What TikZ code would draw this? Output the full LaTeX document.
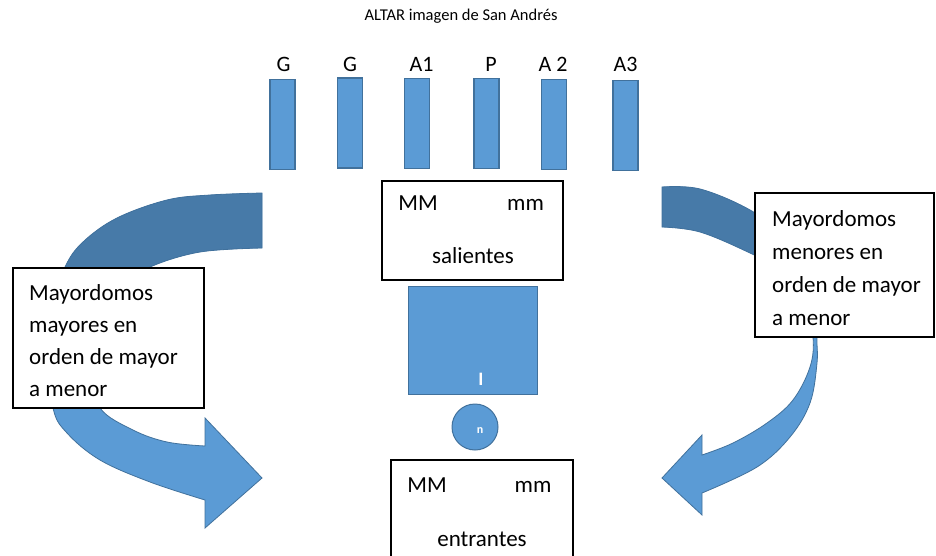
\documentclass[tikz,border=0pt]{standalone}
\usepackage{fontspec}
\setmainfont{Carlito}
\definecolor{lblue}{HTML}{5B9BD5}
\definecolor{dblue}{HTML}{477AA8}
\definecolor{eblue}{HTML}{41719C}
\begin{document}
\begin{tikzpicture}[x=1pt,y=-1pt,
  bar/.style={draw=eblue, line width=1.2pt, fill=lblue, minimum width=25pt, minimum height=90pt, inner sep=0pt},
  lab/.style={anchor=base, font=\fontsize{22}{26}\selectfont, inner sep=0pt},
  box/.style={draw=black, line width=1.6pt, fill=white, inner sep=0pt},
  boxtxt/.style={anchor=base, font=\fontsize{23}{28}\selectfont, inner sep=0pt},
  bluefill/.style={draw=eblue, line width=1pt, fill=lblue, inner sep=0pt},
  whitetxt/.style={text=white, inner sep=0pt},
  larrow/.style={insert path={
    (262,193) -- plot[smooth, tension=0.6] coordinates {(262,193) (210,195) (167,200) (117,218) (83,242) (65,267) (50,310) (47,350) (53,408) (67,433) (100,460) (150,482) (205,500)}
    -- (205,528) -- (262,478) -- (205,418) -- (205,446)
    -- plot[smooth, tension=0.6] coordinates {(205,446) (167,442) (133,430) (100,408) (90,370) (100,320) (125,285) (150,267) (200,252) (262,248)} -- cycle}},
  rarrow/.style={insert path={
    (662,187) -- plot[smooth, tension=0.6] coordinates {(662,187) (700,189) (750,210) (790,240) (815,280) (820,310) (817,337) (817,363) (810,403) (790,437) (757,467) (702,493)}
    -- (702,515) -- (662,478) -- (702,435) -- (702,455)
    -- plot[smooth, tension=0.6] coordinates {(702,455) (733,443) (767,423) (793,400) (810,367) (813,337) (805,300) (785,272) (750,253) (700,232) (662,227)} -- cycle}}
]
\clip (0,0) rectangle (936,556);
\fill[white] (0,0) rectangle (936,556);

% title
\node[anchor=base, font=\fontsize{16.5}{20}\selectfont, inner sep=0pt] (title) at (461,21) {ALTAR imagen de San Andrés};

% labels
\node[lab] (l1) at (283.5,72) {G};
\node[lab] (l2) at (350,72) {G};
\node[lab] (l3) at (421.5,72) {A1};
\node[lab] (l4) at (491,72) {P};
\node[lab] (l5) at (553,72) {A 2};
\node[lab] (l6) at (625.5,72) {A3};

% bars
\node[bar] (b1) at (282.5,124.5) {};
\node[bar] (b2) at (350,123) {};
\node[bar] (b3) at (417,123.5) {};
\node[bar] (b4) at (486.5,123.5) {};
\node[bar] (b5) at (554,124.5) {};
\node[bar] (b6) at (625.5,125.5) {};

% curved arrows
\fill[lblue, larrow];
\begin{scope}
  \clip (0,0) rectangle (936,340);
  \fill[dblue, larrow];
\end{scope}
\draw[eblue, line width=0.8pt, larrow];

\fill[lblue, rarrow];
\begin{scope}
  \clip (0,0) rectangle (936,300);
  \fill[dblue, rarrow];
\end{scope}
\draw[eblue, line width=0.8pt, rarrow];

% side boxes
\node[box, minimum width=191pt, minimum height=140pt] (lbox) at (108.5,338) {};
\node[anchor=west, align=left, inner sep=0pt, font=\fontsize{23}{32}\selectfont] (ltx) at (29,341) {Mayordomos\\mayores en\\orden de mayor\\a menor};
\node[box, minimum width=179pt, minimum height=144pt] (rbox) at (844.5,265) {};
\node[anchor=west, align=left, inner sep=0pt, font=\fontsize{23}{33}\selectfont] (rtx) at (772,268) {Mayordomos\\menores en\\orden de mayor\\a menor};

% salientes box
\node[box, minimum width=181pt, minimum height=99pt] (sal) at (472.5,230.5) {};
\node[boxtxt] (salMM) at (418,211) {MM};
\node[boxtxt] (salmm) at (525.5,211) {mm};
\node[boxtxt] (saltx) at (473,263) {salientes};

% central rectangle and circle
\node[bluefill, minimum width=129pt, minimum height=108pt] (mesa) at (472.5,340) {};
\node[whitetxt, font=\bfseries\fontsize{19}{20}\selectfont] (itx) at (481,379) {I};
\node[bluefill, circle, minimum size=46pt] (circ) at (475,427) {};
\node[whitetxt, font=\bfseries\fontsize{12}{14}\selectfont] (ntx) at (480,431) {n};

% entrantes box
\node[box, minimum width=182pt, minimum height=120pt] (ent) at (482,520) {};
\node[boxtxt] (entMM) at (427,492) {MM};
\node[boxtxt] (entmm) at (533,492) {mm};
\node[boxtxt] (enttx) at (482,546) {entrantes};
\end{tikzpicture}
\end{document}
